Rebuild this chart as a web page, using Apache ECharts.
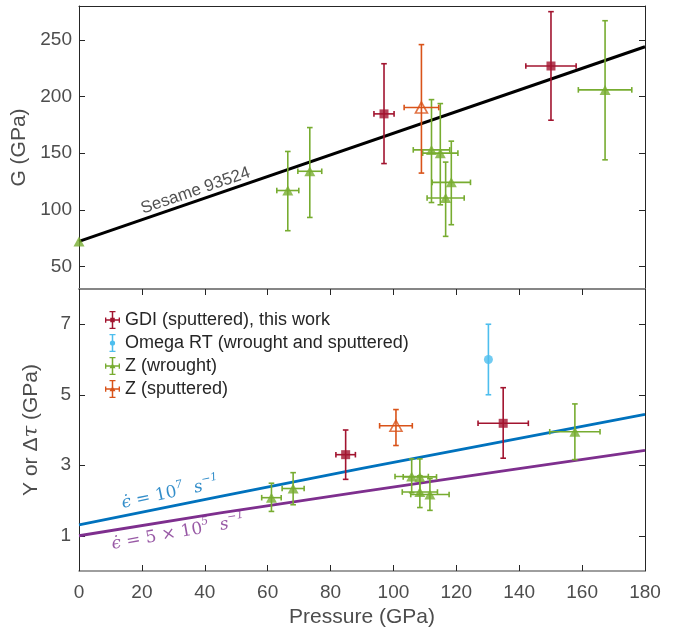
<!DOCTYPE html>
<html>
<head>
<meta charset="utf-8">
<script src="https://cdn.jsdelivr.net/npm/echarts@6/dist/echarts.min.js"></script>
<style>
  html, body { margin: 0; padding: 0; background: #fff; }
  #main { width: 683px; height: 633px; }
</style>
</head>
<body>
<div id="main"></div>
<script>
// ---- data ----
// top panel: shear modulus G
const gdiP = [97.0, 150.1]
const gdiG = [184.7, 227.0]
const gdiGLo = [140.8, 179.1]
const gdiGHi = [229.0, 275.0]
const gdiGPErr = [3.2, 8.0]

const zwP = [0, 66.4, 73.4, 112.1, 114.9, 118.4, 116.6, 167.3]
const zwG = [72, 117, 134, 152.9, 150, 124.2, 110.4, 205.9]
const zwGLo = [72, 81.5, 93.2, 106.4, 104.4, 86.8, 76.5, 144.1]
const zwGHi = [72, 151.5, 172.6, 197.3, 193.8, 160.6, 142.1, 267.0]
const zwGPErr = [0, 3.5, 3.8, 5.8, 5.6, 6.1, 5.9, 8.5]

const zsP = [108.9]
const zsG = [190.3]
const zsGLo = [132.4]
const zsGHi = [245.9]
const zsGPErr = [5.5]

const sesameP = [0, 180]
const sesameG = [72, 244]

// bottom panel: strength Y or delta tau
const gdiYP = [84.8, 134.9]
const gdiY = [3.30, 4.19]
const gdiYLo = [2.60, 3.20]
const gdiYHi = [4.00, 5.20]
const gdiYPErr = [3.1, 8.0]

const omegaP = [130.2]
const omegaY = [6.0]
const omegaYLo = [5.0]
const omegaYHi = [7.0]
const omegaPErr = [0]

const zwYP = [61.2, 68.1, 105.8, 108.4, 108.4, 111.6, 157.7]
const zwY = [2.08, 2.34, 2.68, 2.67, 2.24, 2.17, 3.95]
const zwYLo = [1.69, 1.88, 2.22, 2.17, 1.80, 1.72, 3.16]
const zwYHi = [2.49, 2.79, 3.18, 3.18, 2.70, 2.62, 4.74]
const zwYPErr = [3.1, 3.5, 5.3, 5.3, 5.6, 6.1, 8.0]

const zsYP = [100.8]
const zsY = [4.12]
const zsYLo = [3.56]
const zsYHi = [4.58]
const zsYPErr = [5.2]

const strainP = [0, 45, 90, 135, 180]
const rate1e7 = [1.31, 2.12, 2.91, 3.68, 4.44]
const rate5e5 = [1.0, 1.65, 2.25, 2.84, 3.42]

const pressureTicks = [0, 20, 40, 60, 80, 100, 120, 140, 160, 180]
const gTicks = [50, 100, 150, 200, 250]
const yTicks = [1, 3, 5, 7]

// ---- colours ----
const RED = '#A2142F'
const CYAN = '#4DBEEE'
const GREEN = '#77AC30'
const ORANGE = '#D95319'
const BLUE = '#0072BD'
const PURPLE = '#7E2F8E'
const FONT = 'Liberation Sans'
const MATH = 'DejaVu Serif'

const NAMES = ['GDI (sputtered), this work', 'Omega RT (wrought and sputtered)', 'Z (wrought)', 'Z (sputtered)']

function zip() {
  const cols = Array.from(arguments)
  return cols[0].map((_, i) => cols.map(c => c[i]))
}

function errorBarItem(params, api) {
  const p = api.value(0)
  const v = api.value(1)
  const lo = api.value(2)
  const hi = api.value(3)
  const pe = api.value(4)
  const style = { stroke: api.visual('color'), lineWidth: 1.6 }
  const cap = 2.8
  const children = []
  if (hi > lo) {
    const t = api.coord([p, hi])
    const b = api.coord([p, lo])
    children.push({ type: 'line', shape: { x1: t[0], y1: t[1], x2: b[0], y2: b[1] }, style })
    children.push({ type: 'line', shape: { x1: t[0] - cap, y1: t[1], x2: t[0] + cap, y2: t[1] }, style })
    children.push({ type: 'line', shape: { x1: b[0] - cap, y1: b[1], x2: b[0] + cap, y2: b[1] }, style })
  }
  if (pe > 0) {
    const l = api.coord([p - pe, v])
    const r = api.coord([p + pe, v])
    children.push({ type: 'line', shape: { x1: l[0], y1: l[1], x2: r[0], y2: r[1] }, style })
    children.push({ type: 'line', shape: { x1: l[0], y1: l[1] - cap, x2: l[0], y2: l[1] + cap }, style })
    children.push({ type: 'line', shape: { x1: r[0], y1: r[1] - cap, x2: r[0], y2: r[1] + cap }, style })
  }
  return { type: 'group', children }
}

function errorSeries(name, color, axis, data) {
  return {
    name,
    type: 'custom',
    xAxisIndex: axis,
    yAxisIndex: axis,
    renderItem: errorBarItem,
    itemStyle: { color },
    encode: { x: 0, y: 1 },
    data,
    z: 3,
    silent: true
  }
}

function markerSeries(name, axis, symbol, size, itemStyle, data) {
  return {
    name,
    type: 'scatter',
    xAxisIndex: axis,
    yAxisIndex: axis,
    symbol,
    symbolSize: size,
    itemStyle,
    data,
    clip: false,
    z: 4,
    silent: true
  }
}

function lineSeries(name, axis, color, width, data) {
  return {
    name,
    type: 'line',
    xAxisIndex: axis,
    yAxisIndex: axis,
    data,
    symbol: 'none',
    lineStyle: { color, width },
    z: 2,
    silent: true
  }
}

function textSeries(axis, point, rotate, formatter, rich, extra) {
  return {
    type: 'scatter',
    xAxisIndex: axis,
    yAxisIndex: axis,
    symbolSize: 0,
    data: [point],
    silent: true,
    z: 5,
    label: Object.assign({ show: true, position: 'inside', rotate, formatter, rich }, extra || {})
  }
}

function mathRich(color) {
  return {
    i: { fontFamily: MATH, fontStyle: 'italic', fontSize: 17, color, lineHeight: 24 },
    r: { fontFamily: MATH, fontSize: 17, color, lineHeight: 24 },
    s: { fontFamily: MATH, fontStyle: 'italic', fontSize: 11, color, verticalAlign: 'top', lineHeight: 24 }
  }
}

const tickLabel = { color: '#4d4d4d', fontSize: 19, fontFamily: FONT }
const nameStyle = { fontSize: 21, color: '#4d4d4d', fontFamily: FONT }
const darkLine = { show: true, onZero: false, lineStyle: { color: '#262626', width: 1 } }
const greyLine = { show: true, onZero: false, lineStyle: { color: '#7f7f7f', width: 1.5 } }
const tick = { inside: true, length: 6, lineStyle: { color: '#262626' } }

const xBase = { type: 'value', min: 0, max: 180, interval: 20, splitLine: { show: false } }

// legend icons: error bar crosses with a small marker
const crossCaps = 'M9 0H11V24H9Z M6 0H14V1.8H6Z M6 22.2H14V24H6Z M0 11H20V13H0Z M0 8.5H1.8V15.5H0Z M18.2 8.5H20V15.5H18.2Z'
const vertCaps = 'M9 0H11V24H9Z M6 0H14V1.8H6Z M6 22.2H14V24H6Z M0 12H0.01V12.01H0Z M19.99 12H20V12.01H19.99Z'
const iconGdi = 'path://' + crossCaps + ' M7 9H13V15H7Z'
const iconOmega = 'path://' + vertCaps + ' M10 8.5A3.5 3.5 0 1 1 10 15.5A3.5 3.5 0 1 1 10 8.5Z'
const iconTri = 'path://' + crossCaps + ' M10 8L14 15H6Z'

const chart = echarts.init(document.getElementById('main'))

chart.setOption({
  animation: false,
  backgroundColor: '#fff',
  textStyle: { fontFamily: FONT },
  grid: [
    { left: 79, right: 38, top: 6, height: 283 },
    { left: 79, right: 38, top: 289, height: 282 }
  ],
  legend: {
    orient: 'vertical',
    left: 100,
    top: 306,
    itemWidth: 15,
    itemHeight: 21,
    itemGap: 5,
    textStyle: { fontSize: 18, color: '#262626', fontFamily: FONT },
    selectedMode: false,
    data: [
      { name: NAMES[0], icon: iconGdi, itemStyle: { color: RED, borderWidth: 0 } },
      { name: NAMES[1], icon: iconOmega, itemStyle: { color: CYAN, borderWidth: 0 } },
      { name: NAMES[2], icon: iconTri, itemStyle: { color: GREEN, borderWidth: 0 } },
      { name: NAMES[3], icon: iconTri, itemStyle: { color: ORANGE, borderWidth: 0 } }
    ]
  },
  xAxis: [
    Object.assign({}, xBase, { gridIndex: 0, position: 'bottom', axisLine: greyLine, axisTick: { show: false }, axisLabel: { show: false } }),
    Object.assign({}, xBase, { gridIndex: 0, position: 'top', axisLine: darkLine, axisTick: { show: false }, axisLabel: { show: false } }),
    Object.assign({}, xBase, {
      gridIndex: 1,
      position: 'bottom',
      axisLine: greyLine,
      axisTick: tick,
      axisLabel: Object.assign({ margin: 12, customValues: pressureTicks }, tickLabel),
      name: 'Pressure (GPa)',
      nameLocation: 'middle',
      nameGap: 36,
      nameTextStyle: nameStyle
    }),
    Object.assign({}, xBase, {
      gridIndex: 1,
      position: 'top',
      axisLine: greyLine,
      axisTick: tick,
      axisLabel: { show: false }
    })
  ],
  yAxis: [
    {
      type: 'value', gridIndex: 0, position: 'left', min: 30, max: 280,
      splitLine: { show: false },
      axisLine: darkLine,
      axisTick: Object.assign({ customValues: gTicks }, tick),
      axisLabel: Object.assign({ margin: 7, customValues: gTicks }, tickLabel),
      name: 'G (GPa)',
      nameLocation: 'middle',
      nameGap: 45,
      nameTextStyle: nameStyle
    },
    {
      type: 'value', gridIndex: 0, position: 'right', min: 30, max: 280,
      splitLine: { show: false },
      axisLine: darkLine,
      axisTick: Object.assign({ customValues: gTicks }, tick),
      axisLabel: { show: false }
    },
    {
      type: 'value', gridIndex: 1, position: 'left', min: 0, max: 8,
      splitLine: { show: false },
      axisLine: darkLine,
      axisTick: Object.assign({ customValues: yTicks }, tick),
      axisLabel: Object.assign({ margin: 8, customValues: yTicks }, tickLabel),
      name: 'Y or Δ{t|τ} (GPa)',
      nameLocation: 'middle',
      nameGap: 37,
      nameTextStyle: Object.assign({
        rich: { t: { fontSize: 21, color: '#4d4d4d', fontFamily: MATH, fontStyle: 'italic' } }
      }, nameStyle)
    },
    {
      type: 'value', gridIndex: 1, position: 'right', min: 0, max: 8,
      splitLine: { show: false },
      axisLine: darkLine,
      axisTick: Object.assign({ customValues: yTicks }, tick),
      axisLabel: { show: false }
    }
  ],
  series: [
    // top panel
    lineSeries('Sesame 93524', 0, '#000', 3, zip(sesameP, sesameG)),
    textSeries(0, [37.1, 116.8], 19, 'Sesame 93524', null, { fontSize: 17, color: '#262626', fontFamily: FONT }),
    errorSeries(NAMES[0], RED, 0, zip(gdiP, gdiG, gdiGLo, gdiGHi, gdiGPErr)),
    errorSeries(NAMES[2], GREEN, 0, zip(zwP, zwG, zwGLo, zwGHi, zwGPErr)),
    errorSeries(NAMES[3], ORANGE, 0, zip(zsP, zsG, zsGLo, zsGHi, zsGPErr)),
    markerSeries(NAMES[0], 0, 'rect', 9, { color: RED }, zip(gdiP, gdiG)),
    markerSeries(NAMES[2], 0, 'triangle', [11, 10], { color: GREEN }, zip(zwP, zwG)),
    markerSeries(NAMES[3], 0, 'triangle', [12, 11], { color: 'rgba(255,255,255,0)', borderColor: ORANGE, borderWidth: 1.6 }, zip(zsP, zsG)),
    // bottom panel
    lineSeries('strain rate 1e7', 2, BLUE, 2.8, zip(strainP, rate1e7)),
    lineSeries('strain rate 5e5', 2, PURPLE, 2.8, zip(strainP, rate5e5)),
    textSeries(2, [29.0, 2.20], 12, '{i|ϵ̇}{r| = 10}{s|7}{i|  s}{s|−1}', mathRich(BLUE)),
    textSeries(2, [31.5, 1.08], 10, '{i|ϵ̇}{r| = 5 × 10}{s|5}{i|  s}{s|−1}', mathRich(PURPLE)),
    errorSeries(NAMES[0], RED, 2, zip(gdiYP, gdiY, gdiYLo, gdiYHi, gdiYPErr)),
    errorSeries(NAMES[1], CYAN, 2, zip(omegaP, omegaY, omegaYLo, omegaYHi, omegaPErr)),
    errorSeries(NAMES[2], GREEN, 2, zip(zwYP, zwY, zwYLo, zwYHi, zwYPErr)),
    errorSeries(NAMES[3], ORANGE, 2, zip(zsYP, zsY, zsYLo, zsYHi, zsYPErr)),
    markerSeries(NAMES[0], 2, 'rect', 9, { color: RED }, zip(gdiYP, gdiY)),
    markerSeries(NAMES[1], 2, 'circle', 9, { color: CYAN }, zip(omegaP, omegaY)),
    markerSeries(NAMES[2], 2, 'triangle', [11, 10], { color: GREEN }, zip(zwYP, zwY)),
    markerSeries(NAMES[3], 2, 'triangle', [12, 11], { color: 'rgba(255,255,255,0)', borderColor: ORANGE, borderWidth: 1.6 }, zip(zsYP, zsY))
  ]
})
</script>
</body>
</html>
